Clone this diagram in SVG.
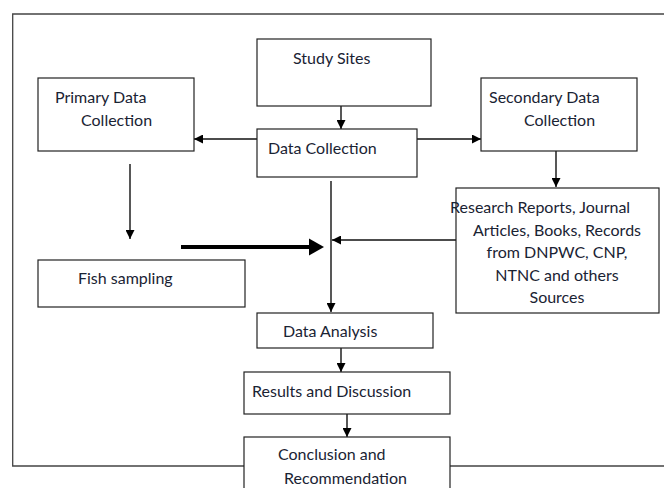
<svg xmlns="http://www.w3.org/2000/svg" width="664" height="488" viewBox="0 0 664 488">
<defs>
<style>
.box{fill:#fff;stroke:#222;stroke-width:1.2}
.frame{fill:none;stroke:#444;stroke-width:1.3}
.t{font-family:Lato,"Liberation Sans",sans-serif;font-size:16px;fill:#1a2333}
.c{stroke:#111;stroke-width:1.4;fill:none}
.thick{stroke:#000;stroke-width:4;fill:none}
</style>
<marker id="ah" viewBox="0 0 10 10" refX="10" refY="5" markerWidth="9" markerHeight="9" markerUnits="userSpaceOnUse" orient="auto">
<path d="M0,0 L10,5 L0,10 Z" fill="#000"/>
</marker>
</defs>
<rect width="664" height="488" fill="#fff"/>
<path class="frame" d="M680,14 H12.7 V466 H680"/>

<g id="connectors">
<line class="c" x1="341" y1="106" x2="341" y2="129" marker-end="url(#ah)"/>
<line class="c" x1="257" y1="139" x2="194" y2="139" marker-end="url(#ah)"/>
<line class="c" x1="417" y1="139" x2="481" y2="139" marker-end="url(#ah)"/>
<line class="c" x1="556" y1="151" x2="556" y2="187" marker-end="url(#ah)"/>
<line class="c" x1="130" y1="164" x2="130" y2="239" marker-end="url(#ah)"/>
<line class="thick" x1="181" y1="247" x2="310" y2="247"/>
<path d="M309,238.5 L324,247 L309,255.5 Z" fill="#000"/>
<line class="c" x1="456" y1="240" x2="332" y2="240" marker-end="url(#ah)"/>
<line class="c" x1="331" y1="181" x2="331" y2="312" marker-end="url(#ah)"/>
<line class="c" x1="341" y1="348" x2="341" y2="372" marker-end="url(#ah)"/>
<line class="c" x1="347" y1="414" x2="347" y2="437" marker-end="url(#ah)"/>
</g>

<g id="study-sites">
<rect class="box" x="257" y="39" width="174" height="67"/>
<text class="t" x="293" y="64">Study Sites</text>
</g>
<g id="primary">
<rect class="box" x="38" y="78" width="156" height="73"/>
<text class="t" x="55" y="103">Primary Data</text>
<text class="t" x="81" y="126">Collection</text>
</g>
<g id="data-collection">
<rect class="box" x="257" y="129" width="160" height="48"/>
<text class="t" x="268" y="154">Data Collection</text>
</g>
<g id="secondary">
<rect class="box" x="481" y="78" width="156" height="73"/>
<text class="t" x="489" y="103">Secondary Data</text>
<text class="t" x="524" y="126">Collection</text>
</g>
<g id="research">
<rect class="box" x="456" y="188" width="203" height="125"/>
<text class="t" x="450" y="213">Research Reports, Journal</text>
<text class="t" x="557" y="236" text-anchor="middle">Articles, Books, Records</text>
<text class="t" x="557" y="258" text-anchor="middle">from DNPWC, CNP,</text>
<text class="t" x="557" y="281" text-anchor="middle">NTNC and others</text>
<text class="t" x="557" y="303" text-anchor="middle">Sources</text>
</g>
<g id="fish-sampling">
<rect class="box" x="38" y="260" width="207" height="47"/>
<text class="t" x="78" y="284">Fish sampling</text>
</g>
<g id="data-analysis">
<rect class="box" x="257" y="313" width="176" height="35"/>
<text class="t" x="283" y="337">Data Analysis</text>
</g>
<g id="results">
<rect class="box" x="244" y="372" width="206" height="42"/>
<text class="t" x="252" y="397">Results and Discussion</text>
</g>
<g id="conclusion">
<rect class="box" x="244" y="437" width="206" height="70"/>
<text class="t" x="278" y="460">Conclusion and</text>
<text class="t" x="284" y="484">Recommendation</text>
</g>
</svg>
